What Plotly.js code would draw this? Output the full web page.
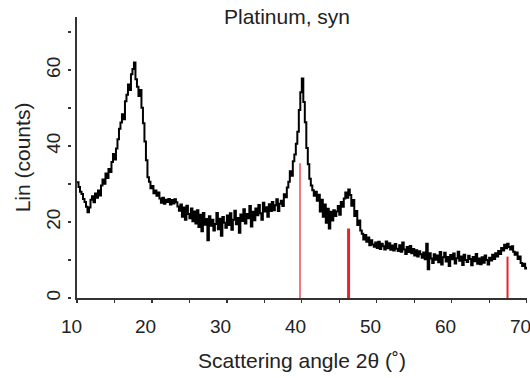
<!DOCTYPE html>
<html>
<head>
<meta charset="utf-8">
<script src="https://cdn.plot.ly/plotly-3.0.1.min.js"></script>
<style>html,body{margin:0;padding:0;background:#fff;}#chart{width:530px;height:378px;}</style>
</head>
<body>
<div id="chart"></div>
<script>
var angleStart = 10;
var angleStep = 0.2;
var counts = [
  30.5, 29.2, 28.0, 27.4, 26.1, 25.3, 24.0, 22.6, 23.8, 25.9,
  26.8, 25.2, 27.5, 26.4, 28.3, 27.0, 29.6, 31.2, 30.1, 32.8,
  31.6, 34.0, 33.2, 35.8, 37.9, 36.5, 39.4, 41.8, 44.6, 46.2,
  48.4, 47.1, 51.8, 53.5, 56.2, 54.8, 58.9, 60.3, 62.0, 57.6,
  55.6, 53.2, 54.8, 50.1, 46.0, 41.2, 36.3, 31.8, 30.6, 28.9,
  29.5, 27.6, 28.3, 26.9, 27.8, 26.2, 25.1, 26.4, 24.8, 25.9,
  25.3, 26.1, 24.6, 25.8, 24.9, 26.0, 25.2, 24.1, 23.0, 24.6,
  21.4, 23.8, 20.6, 24.3, 22.1, 21.0, 23.6, 20.2, 22.8, 19.6,
  23.1, 18.7, 21.9, 17.6, 22.4, 19.3, 20.8, 15.2, 21.5, 19.0,
  20.6, 17.8, 19.5, 22.4, 18.1, 20.9, 16.4, 21.3, 19.8, 18.5,
  21.7, 19.2, 22.3, 18.0, 20.6, 23.0, 19.4, 21.1, 17.2, 22.0,
  20.3, 23.4, 19.6, 22.1, 21.0, 24.2, 18.8, 22.7, 20.5, 23.6,
  21.8, 24.5, 22.3, 20.6, 25.1, 22.8, 23.9, 21.4, 24.7, 22.9,
  25.3, 23.1, 24.4, 26.0, 22.9, 24.8, 25.6, 24.2, 27.3, 26.5,
  29.1, 30.6, 33.4, 32.2, 36.0, 37.8, 40.6, 43.8, 49.5, 54.2,
  57.8, 51.6, 46.3, 39.5, 35.2, 31.4, 29.6, 28.4, 26.9, 28.0,
  25.6, 27.2, 22.8, 25.9, 21.4, 24.6, 19.8, 23.5, 18.3, 22.7,
  20.4, 23.1, 21.6, 22.8, 24.2, 21.9, 25.3, 24.0, 26.2, 27.8,
  26.4, 28.6, 27.1, 24.3, 25.8, 21.6, 22.9, 19.2, 20.4, 17.8,
  16.9, 15.4, 16.6, 14.8, 15.9, 13.9, 15.2, 14.1, 13.5, 14.6,
  13.2, 14.8, 12.9, 14.3, 13.6, 12.8, 14.9, 13.1, 14.4, 12.7,
  13.8, 12.5, 14.2, 13.0, 12.4, 13.9, 12.2, 14.6, 12.8, 11.6,
  13.4, 12.1, 13.7, 11.8, 12.9, 11.2, 12.6, 10.9, 12.3, 11.5,
  10.6, 12.0, 10.2, 14.3, 7.6, 11.8, 10.4, 9.2, 11.5, 10.1,
  11.2, 9.4, 12.1, 8.8, 10.7, 11.9, 9.6, 10.8, 8.4, 11.3,
  10.2, 11.7, 9.1, 10.5, 12.2, 9.8, 10.9, 8.7, 11.4, 10.0,
  9.5, 11.1, 10.3, 8.6, 10.8, 9.7, 11.6, 9.0, 10.4, 8.9,
  10.7, 9.3, 11.2, 10.0, 8.8, 10.6, 9.9, 11.4, 10.3, 11.8,
  10.9, 12.4, 11.6, 13.2, 12.5, 14.0, 13.1, 14.3, 13.4, 12.8,
  13.6, 12.2, 11.4, 12.0, 10.3, 10.9, 9.2, 8.4, 9.0, 7.8,
  8.2
];
// Reference lines for Platinum, syn
var refAngles = [39.76, 46.24, 67.45];
var refHeights = [35.5, 18.3, 10.9];
var refWidths = [1.2, 3, 2];

var xTickVals = [10, 15, 20, 25, 30, 35, 40, 45, 50, 55, 60, 65, 70];
var xLabelVals = [10, 20, 30, 40, 50, 60, 70];
var xLabelText = ['10', '20', '30', '40', '50', '60', '70'];
var yTickVals = [0, 10, 20, 30, 40, 50, 60, 70];
var yTickText = ['0', '', '20', '', '40', '', '60', ''];

var angles = counts.map(function (_, i) { return +(angleStart + i * angleStep).toFixed(2); });

var traces = [{
  x: angles, y: counts, type: 'scatter', mode: 'lines',
  line: {color: '#000', width: 2, shape: 'hv'}, hoverinfo: 'skip', showlegend: false
}];
refAngles.forEach(function (a, i) {
  traces.push({
    x: [a, a], y: [0, refHeights[i]], type: 'scatter', mode: 'lines', yaxis: 'y2',
    line: {color: '#e8232a', width: refWidths[i]}, hoverinfo: 'skip', showlegend: false
  });
});

// x tick labels drawn as text at the axis values, set a little lower than Plotly's default
var tickLabelAnnotations = xLabelVals.map(function (v, i) {
  return {
    x: v, xref: 'x', y: 0, yref: 'paper', yanchor: 'middle', xanchor: 'center',
    yshift: -28, xshift: -6, showarrow: false, text: xLabelText[i],
    font: {size: 19, color: '#222'}
  };
});

var W = 530, L = 60, R = 3;
var plotW = W - L - R;
var layout = {
  width: 530, height: 378,
  margin: {l: L, r: R, t: 17, b: 80, pad: 0},
  paper_bgcolor: '#fff', plot_bgcolor: '#fff',
  font: {family: 'Liberation Sans, Arial, sans-serif', color: '#222', size: 19},
  title: {text: 'Platinum, syn', font: {size: 21, color: '#222'},
          x: 287 / 530, xanchor: 'center', xref: 'container', y: 1 - 17 / 378, yanchor: 'middle', yref: 'container'},
  xaxis: {
    domain: [(77 - L) / plotW, 1], range: [10, 70.05],
    tickvals: xTickVals, showticklabels: false, ticks: 'outside', ticklen: 3, tickwidth: 1.3, tickcolor: '#333',
    showline: true, linecolor: '#333', linewidth: 1.6, showgrid: false, zeroline: false,
    title: {text: 'Scattering angle 2θ (˚)', font: {size: 21}, standoff: 51},
    anchor: 'y'
  },
  yaxis: {
    range: [0, 74], anchor: 'free', position: (71 - L) / plotW,
    tickvals: yTickVals, ticktext: yTickText, ticks: 'outside', ticklen: 3, tickwidth: 1.5, tickcolor: '#333',
    tickangle: -90, tickfont: {size: 19},
    showline: false, showgrid: false, zeroline: false,
    title: {text: 'Lin (counts)', font: {size: 21}, standoff: 6}
  },
  yaxis2: {
    range: [0, 74], overlaying: 'y', anchor: 'x', side: 'left',
    showline: true, linecolor: '#333', linewidth: 1.6, showticklabels: false, ticks: '',
    showgrid: false, zeroline: false
  },
  annotations: tickLabelAnnotations
};
Plotly.newPlot('chart', traces, layout, {staticPlot: true, displayModeBar: false});
</script>
</body>
</html>
